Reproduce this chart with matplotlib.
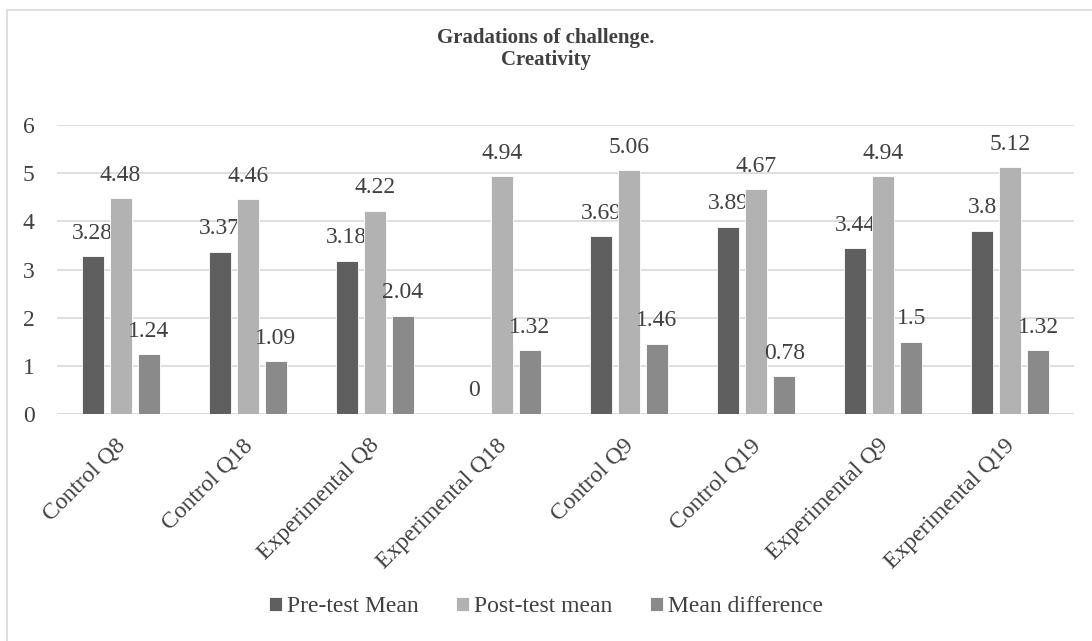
import matplotlib.pyplot as plt
from matplotlib.patches import Rectangle
from matplotlib.transforms import ScaledTranslation
import numpy as np

plt.rcParams['font.family'] = ['Liberation Serif', 'DejaVu Serif']

categories = ['Control Q8', 'Control Q18', 'Experimental Q8', 'Experimental Q18',
              'Control Q9', 'Control Q19', 'Experimental Q9', 'Experimental Q19']
pre_mean = [3.28, 3.37, 3.18, 0, 3.69, 3.89, 3.44, 3.8]
post_mean = [4.48, 4.46, 4.22, 4.94, 5.06, 4.67, 4.94, 5.12]
mean_diff = [1.24, 1.09, 2.04, 1.32, 1.46, 0.78, 1.5, 1.32]
series = [('Pre-test Mean', pre_mean, '#5f5f5f'),
          ('Post-test mean', post_mean, '#b2b2b2'),
          ('Mean difference', mean_diff, '#8a8a8a')]

fig = plt.figure(figsize=(10.92, 6.41), dpi=100)
ax = fig.add_axes([57/1092, 1-414/641, (1074-57)/1092, (414-125)/641])

# light frame around the whole chart (only left/top visible)
fig.patches.append(Rectangle((7/1092, -0.1), 2, 1.1-10/641, transform=fig.transFigure,
                             fill=False, edgecolor='#d9d9d9', linewidth=1.2))

x = np.arange(len(categories))
w = 0.173
step = 0.22
txt = '#404040'
fs = 17
for i, (name, vals, col) in enumerate(series):
    bars = ax.bar(x + (i-1)*step, vals, w, color=col, label=name,
                  edgecolor='white', linewidth=0.6, zorder=3)
    for b, v in zip(bars, vals):
        ax.annotate(f'{v:g}', (b.get_x()+b.get_width()/2, v), xytext=(0, 9),
                    textcoords='offset points', ha='center', va='bottom',
                    fontsize=fs, color=txt)

ax.set_xlim(-0.5, len(categories)-0.5)
ax.set_ylim(0, 6)
ax.set_yticks(range(7))
ax.yaxis.grid(True, color='#d9d9d9', linewidth=1.2, zorder=0)
for s in ax.spines.values():
    s.set_visible(False)
ax.axhline(0, color='#d9d9d9', linewidth=1.2, zorder=1)
ax.tick_params(length=0, labelsize=fs, labelcolor=txt, pad=16)
ax.tick_params(axis='x', pad=15)
ax.set_xticks(x)
ax.set_xticklabels(categories, rotation=45, ha='right', rotation_mode='anchor')
shift = ScaledTranslation(-6/100, 0, fig.dpi_scale_trans)
for lab in ax.get_xticklabels():
    lab.set_transform(lab.get_transform() + shift)

fig.text(546/1092, 1-49/641, 'Gradations of challenge.\nCreativity', ha='center',
         va='center', fontsize=15, fontweight='bold', color=txt, linespacing=1.15)

fig.legend(loc='center', bbox_to_anchor=(546/1092, 1-607/641), ncol=3, frameon=False,
           fontsize=fs, labelcolor=txt, handlelength=0.55, handleheight=0.55,
           handletextpad=0.2, columnspacing=1.6)

fig.savefig('out.png', dpi=100)
